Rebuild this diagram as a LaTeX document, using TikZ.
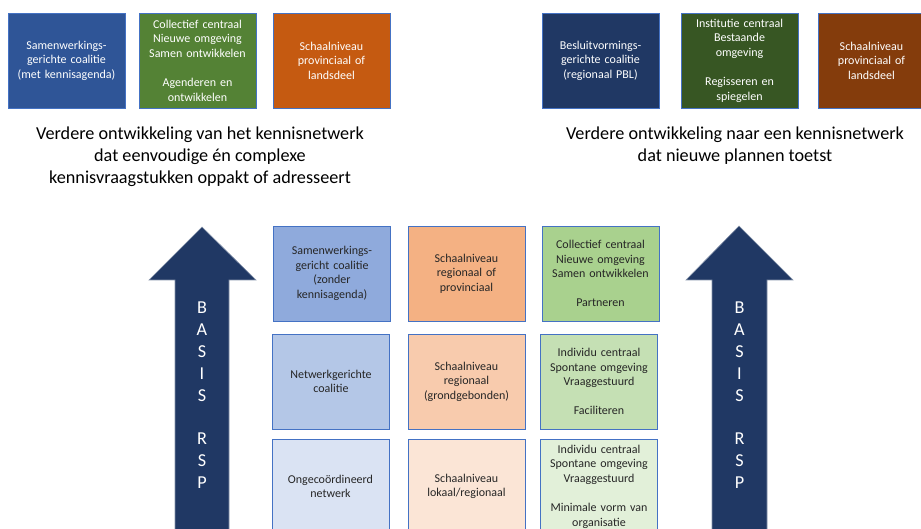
\documentclass[tikz,border=0pt]{standalone}
\usepackage{xcolor}
\usepackage{fontspec}
\setmainfont{Carlito}
\usepackage{tikz}

\definecolor{blueTop}{HTML}{2F5597}
\definecolor{greenTop}{HTML}{548235}
\definecolor{orangeTop}{HTML}{C55A11}
\definecolor{navyTop}{HTML}{203864}
\definecolor{darkgreenTop}{HTML}{375623}
\definecolor{brownTop}{HTML}{843C0C}
\definecolor{blueA}{HTML}{8FAADC}
\definecolor{blueB}{HTML}{B4C7E7}
\definecolor{blueC}{HTML}{DAE3F3}
\definecolor{orangeA}{HTML}{F4B183}
\definecolor{orangeB}{HTML}{F8CBAD}
\definecolor{orangeC}{HTML}{FBE5D6}
\definecolor{greenA}{HTML}{A9D18E}
\definecolor{greenB}{HTML}{C5E0B4}
\definecolor{greenC}{HTML}{E2F0D9}
\definecolor{edge}{HTML}{4472C4}
\definecolor{arrowblue}{HTML}{203864}

\begin{document}
\begin{tikzpicture}[x=1pt, y=-1pt,
    box/.style={draw=edge, line width=0.8pt, minimum width=117pt, minimum height=95pt,
        text width=114pt, align=center, inner sep=0pt, text=black!85,
        font=\fontsize{12}{14.6}\selectfont},
    topbox/.style={box, text=white},
    title/.style={align=center, font=\fontsize{18.2}{22}\selectfont},
    bigarrow/.style={fill=arrowblue, draw=arrowblue!55!white, line width=0.6pt}]
             \clip (0,0) rectangle (921,529);

             % top row, left
             \node[topbox, fill=blueTop] (samen) at (66.5, 60.5) {Samenwerkings-\\gerichte coalitie\\(met kennisagenda)};
             \node[topbox, fill=greenTop] (collectief) at (197.5, 60.5) {Collectief centraal\\Nieuwe omgeving\\Samen ontwikkelen\\[14.6pt]Agenderen en\\ontwikkelen};
             \node[topbox, fill=orangeTop] (provTop) at (331.5, 60.5) {Schaalniveau\\provinciaal of\\landsdeel};

             % top row, right
             \node[topbox, fill=navyTop] (besluit) at (600.5, 60.5) {Besluitvormings-\\gerichte coalitie\\(regionaal PBL)};
             \node[topbox, fill=darkgreenTop] (institutie) at (739.5, 60.5) {Institutie centraal\\Bestaande\\omgeving\\[14.6pt]Regisseren en\\spiegelen};
             \node[topbox, fill=brownTop] (landsdeel) at (876.5, 60.5) {\hspace*{-10pt}Schaalniveau\\\hspace*{-10pt}provinciaal of\\\hspace*{-10pt}landsdeel};

             \node[title] (kennisL) at (200, 157) {Verdere ontwikkeling van het kennisnetwerk\\dat eenvoudige én complexe\\kennisvraagstukken oppakt of adresseert};
             \node[title] (kennisR) at (735, 146) {Verdere ontwikkeling naar een kennisnetwerk\\dat nieuwe plannen toetst};

             % big arrows
             \draw[bigarrow] (202,227) -- (256,280) -- (229,280) -- (229,545) -- (175,545) -- (175,280) -- (149,280) -- cycle;
             \draw[bigarrow] (739,226) -- (793,280) -- (767,280) -- (767,545) -- (712,545) -- (712,280) -- (686,280) -- cycle;
             \node[title, text=white] (basisL) at (202, 395) {B\\A\\S\\I\\S\\[21pt]R\\S\\P};
             \node[title, text=white] (basisR) at (739.5, 395) {B\\A\\S\\I\\S\\[21pt]R\\S\\P};

             % grid
             \node[box, fill=blueA] (coalA) at (332, 273.5) {Samenwerkings-\\gericht coalitie\\(zonder\\kennisagenda)};
             \node[box, fill=orangeA] (schaalA) at (466.5, 273.5) {Schaalniveau\\regionaal of\\provinciaal};
             \node[box, fill=greenA] (rolA) at (600.5, 273.5) {Collectief centraal\\Nieuwe omgeving\\Samen ontwikkelen\\[14.6pt]Partneren};

             \node[box, fill=blueB] (coalB) at (331, 381.5) {Netwerkgerichte\\coalitie\\[14.6pt]};
             \node[box, fill=orangeB] (schaalB) at (466.5, 381.5) {Schaalniveau\\regionaal\\(grondgebonden)\\[14.6pt]};
             \node[box, fill=greenB] (rolB) at (599, 381.5) {Individu centraal\\Spontane omgeving\\Vraaggestuurd\\[14.6pt]Faciliteren};

             \node[box, fill=blueC] (coalC) at (330.5, 486.5) {Ongecoördineerd\\netwerk\\[14.6pt]};
             \node[box, fill=orangeC] (schaalC) at (466.5, 486.5) {Schaalniveau\\lokaal/regionaal\\[14.6pt]};
             \node[box, fill=greenC] (rolC) at (599, 486.5) {Individu centraal\\Spontane omgeving\\Vraaggestuurd\\[14.6pt]Minimale vorm van\\organisatie};
             \end{tikzpicture}
\end{document}
